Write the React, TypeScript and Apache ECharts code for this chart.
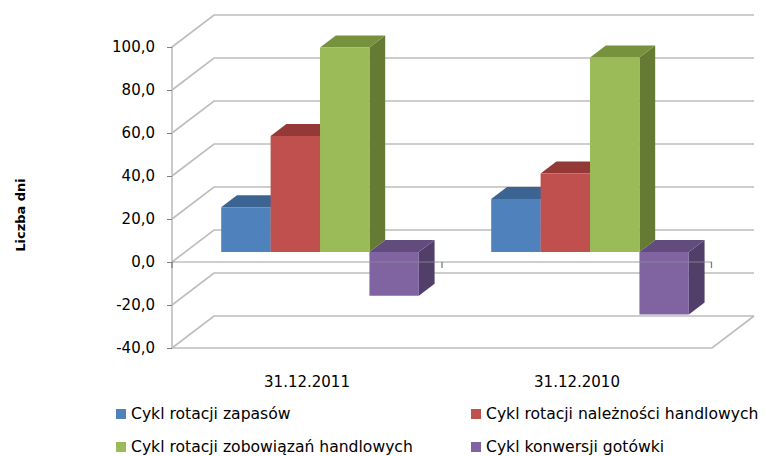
import { useEffect, useRef } from "react";
import * as echarts from "echarts";

// Categories (balance sheet dates) and the four cycle series, in days
const categories = ["31.12.2011", "31.12.2010"];
const seriesNames = [
  "Cykl rotacji zapasów",
  "Cykl rotacji należności handlowych",
  "Cykl rotacji zobowiązań handlowych",
  "Cykl konwersji gotówki",
];
const inventoryDays = [20.9, 24.7];
const receivablesDays = [54.0, 36.6];
const payablesDays = [95.2, 90.5];
const cashCycleDays = [-20.3, -29.0];
const valueTicks = [-40, -20, 0, 20, 40, 60, 80, 100];
const axisTitle = "Liczba dni";

const Y_MIN = -40;
const Y_MAX = 100;
const Y_STEP = 20;

const FONT = "DejaVu Sans";

// Oblique projection of the box: offset from the front plane to the back wall
const DX = 42;
const DY = -32;
// Bars occupy the middle slice of the depth
const BAR_DEPTH_START = 0.31;
const BAR_DEPTH = 0.375;
// Width of a single bar as a fraction of a category band
const BAR_W = 0.183;

const GRID_COLOR = "#bdbdbd";
const TICK_COLOR = "#7f7f7f";

const faces = [
  { front: "#4F81BD", top: "#3C6493", side: "#33547C" },
  { front: "#C0504D", top: "#953936", side: "#7E302E" },
  { front: "#9BBB59", top: "#77923D", side: "#657B34" },
  { front: "#8064A2", top: "#624C7E", side: "#513F69" },
];

const seriesValues = [inventoryDays, receivablesDays, payablesDays, cashCycleDays];

function fmt(v: number) {
  return v.toFixed(1).replace(".", ",");
}

export default function App() {
  const ref = useRef<HTMLDivElement>(null);

  useEffect(() => {
    if (!ref.current) return;
    const chart = echarts.init(ref.current, undefined, { renderer: "svg" });

    // back wall, side wall and floor grid lines, one per value tick
    const wallSeries = {
      type: "custom",
      name: "wall",
      z: 1,
      silent: true,
      data: valueTicks.map((v) => [0, v]),
      encode: { x: 0, y: 1 },
      renderItem: (params: any, api: any) => {
        const cs = params.coordSys;
        const v = api.value(1);
        const y = api.coord([0, v])[1];
        const x0 = cs.x;
        const x1 = cs.x + cs.width;
        const style = { stroke: GRID_COLOR, lineWidth: 1.6, fill: null };
        const children: any[] = [
          {
            type: "polyline",
            shape: { points: [[x0, y], [x0 + DX, y + DY], [x1 + DX, y + DY]] },
            style,
          },
        ];
        if (v === Y_MIN) {
          children.push({
            type: "polyline",
            shape: { points: [[x0, y], [x1, y], [x1 + DX, y + DY]] },
            style,
          });
        }
        return { type: "group", children };
      },
    };

    const barSeries = seriesNames.map((name, k) => ({
      type: "custom",
      name,
      z: 2,
      itemStyle: { color: faces[k].front },
      data: categories.map((_, i) => [i, seriesValues[k][i]]),
      encode: { x: 0, y: 1 },
      renderItem: (_params: any, api: any) => {
        const ci = api.value(0);
        const v = api.value(1);
        const band = api.size([1, 0])[0];
        const left = api.coord([ci, 0])[0] - band / 2;
        const ox = DX * BAR_DEPTH_START;
        const oy = DY * BAR_DEPTH_START;
        const bdx = DX * BAR_DEPTH;
        const bdy = DY * BAR_DEPTH;
        const w = band * BAR_W;
        const margin = (band * (1 - 4 * BAR_W)) / 2;
        const xa = left + ox + margin + k * w;
        const xb = xa + w;
        const yt = api.coord([ci, Math.max(v, 0)])[1] + oy;
        const yb = api.coord([ci, Math.min(v, 0)])[1] + oy;
        const f = faces[k];
        return {
          type: "group",
          children: [
            {
              type: "polygon",
              shape: { points: [[xb, yt], [xb + bdx, yt + bdy], [xb + bdx, yb + bdy], [xb, yb]] },
              style: { fill: f.side },
            },
            {
              type: "polygon",
              shape: { points: [[xa, yt], [xb, yt], [xb + bdx, yt + bdy], [xa + bdx, yt + bdy]] },
              style: { fill: f.top },
            },
            {
              type: "rect",
              shape: { x: xa, y: yt, width: w, height: yb - yt },
              style: { fill: f.front },
            },
          ],
        };
      },
    }));

    // category axis drawn on the front plane at value 0, over the bars
    const zeroLineSeries = {
      type: "custom",
      name: "zero",
      z: 10,
      silent: true,
      data: [[0, 0]],
      encode: { x: 0, y: 1 },
      renderItem: (params: any, api: any) => {
        const cs = params.coordSys;
        const y = api.coord([0, 0])[1];
        const band = api.size([1, 0])[0];
        const children: any[] = [
          {
            type: "line",
            shape: { x1: cs.x, y1: y, x2: cs.x + cs.width, y2: y },
            style: { stroke: "#8c8c8c", lineWidth: 1.4, opacity: 0.55 },
          },
        ];
        for (let i = 0; i <= categories.length; i++) {
          const x = Math.min(cs.x + i * band, cs.x + cs.width - 0.5);
          children.push({
            type: "line",
            shape: { x1: x, y1: y, x2: x, y2: y + 6 },
            style: { stroke: TICK_COLOR, lineWidth: 1.3 },
          });
        }
        return { type: "group", children };
      },
    };

    chart.setOption({
      animation: false,
      textStyle: { fontFamily: FONT },
      grid: { left: 172, right: 53, top: 47, bottom: 108, containLabel: false },
      xAxis: {
        type: "category",
        data: categories,
        axisLine: { show: false },
        axisTick: { show: false },
        splitLine: { show: false },
        axisLabel: { margin: 26, fontSize: 15, color: "#000", fontFamily: FONT },
      },
      yAxis: {
        type: "value",
        min: Y_MIN,
        max: Y_MAX,
        interval: Y_STEP,
        splitLine: { show: false },
        axisLine: { show: true, lineStyle: { color: GRID_COLOR, width: 1.6 } },
        axisTick: { show: true, length: 5, lineStyle: { color: TICK_COLOR } },
        axisLabel: {
          margin: 17,
          fontSize: 15,
          color: "#000",
          fontFamily: FONT,
          formatter: (v: number) => fmt(v),
        },
      },
      legend: seriesNames.map((n, i) => ({
        data: [n],
        left: i % 2 === 0 ? 116 : 471,
        top: i < 2 ? 406 : 439,
        icon: "rect",
        itemWidth: 10,
        itemHeight: 10,
        padding: 0,
        selectedMode: false,
        textStyle: { fontFamily: FONT, fontSize: 15.6, color: "#000" },
      })),
      graphic: [
        {
          type: "text",
          x: 20,
          y: 215,
          rotation: Math.PI / 2,
          style: {
            text: axisTitle,
            font: `bold 13px "${FONT}"`,
            fill: "#000",
            align: "center",
            verticalAlign: "middle",
          },
        },
      ],
      series: [wallSeries, ...barSeries, zeroLineSeries],
    });

    return () => chart.dispose();
  }, []);

  return (
    <div
      ref={ref}
      style={{ position: "absolute", left: 0, top: 0, width: 765, height: 456, background: "#fff" }}
    />
  );
}
